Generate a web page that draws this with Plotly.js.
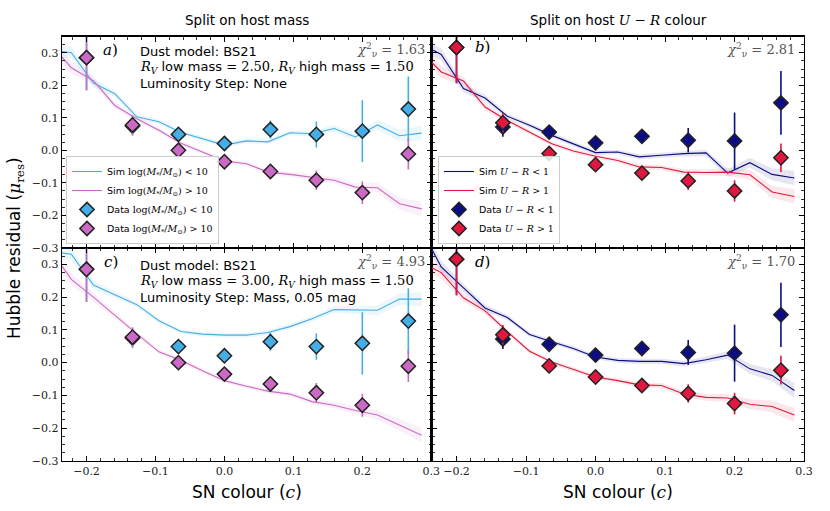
<!DOCTYPE html>
<html><head><meta charset="utf-8">
<script src="https://cdn.plot.ly/plotly-3.0.1.min.js"></script>
<style>body{margin:0;background:#fff}#chart{width:830px;height:511px}</style>
</head><body><div id="chart"></div>
<script>
// ---------- data points (binned) ----------
const dataX = [-0.2, -0.1333, -0.0667, 0.0, 0.0667, 0.1333, 0.2, 0.2667];
// split on host mass
const lowMassY   = [0.285, 0.075, 0.049, 0.021, 0.064, 0.049, 0.059, 0.127];
const lowMassErr = [0.10, 0.03, 0.015, 0.012, 0.028, 0.04, 0.095, 0.10];
const highMassY   = [0.285, 0.078, 0.000, -0.035, -0.065, -0.092, -0.130, -0.011];
const highMassErr = [0.10, 0.03, 0.012, 0.012, 0.015, 0.03, 0.035, 0.048];
// split on host U-R colour
const blueURY   = [0.316, 0.072, 0.056, 0.023, 0.043, 0.031, 0.029, 0.146];
const blueURErr = [0.11, 0.03, 0.012, 0.010, 0.012, 0.038, 0.087, 0.098];
const redURY   = [0.316, 0.085, -0.010, -0.044, -0.070, -0.094, -0.125, -0.023];
const redURErr = [0.11, 0.03, 0.012, 0.010, 0.012, 0.028, 0.033, 0.044];

// ---------- simulation curves ----------
const simX = [-0.254, -0.222, -0.19, -0.159, -0.127, -0.095, -0.063, -0.032, 0.0,
              0.032, 0.063, 0.095, 0.127, 0.159, 0.19, 0.222, 0.254, 0.286];
// panel a
const simA_low  = [0.31, 0.30, 0.207, 0.174, 0.103, 0.088, 0.055, 0.036, 0.016,
                   0.029, 0.026, 0.054, 0.051, 0.067, 0.041, 0.078, 0.045, 0.053];
const simA_high = [0.33, 0.254, 0.214, 0.138, 0.097, 0.062, 0.022, -0.005, -0.033,
                   -0.041, -0.067, -0.074, -0.082, -0.092, -0.113, -0.115, -0.164, -0.180];
// panel b
const simB_blue = [0.33, 0.295, 0.19, 0.161, 0.105, 0.077, 0.046, 0.020, -0.007,
                   -0.005, -0.020, -0.015, -0.010, -0.008, -0.070, -0.038, -0.074, -0.085];
const simB_red  = [0.31, 0.241, 0.213, 0.133, 0.092, 0.056, 0.020, -0.002, -0.018,
                   -0.031, -0.051, -0.053, -0.067, -0.068, -0.067, -0.075, -0.128, -0.142];
// panel c
const simC_low  = [0.34, 0.331, 0.237, 0.208, 0.177, 0.128, 0.095, 0.087, 0.084,
                   0.084, 0.092, 0.110, 0.134, 0.162, 0.160, 0.160, 0.194, 0.194];
const simC_high = [0.35, 0.254, 0.200, 0.144, 0.088, 0.033, 0.007, -0.025, -0.055,
                   -0.072, -0.087, -0.096, -0.119, -0.130, -0.146, -0.160, -0.190, -0.222];
// panel d
const simD_blue = [0.42, 0.292, 0.228, 0.167, 0.138, 0.086, 0.064, 0.043, 0.017,
                   0.007, 0.004, 0.004, -0.003, 0.009, 0.023, -0.019, -0.039, -0.085];
const simD_red  = [0.31, 0.275, 0.198, 0.158, 0.095, 0.035, 0.002, -0.021, -0.044,
                   -0.055, -0.068, -0.070, -0.096, -0.106, -0.108, -0.127, -0.134, -0.160];
// half-width of the shaded simulation uncertainty band
const simBand = [0.022, 0.018, 0.013, 0.010, 0.008, 0.007, 0.007, 0.007, 0.007,
                 0.007, 0.008, 0.008, 0.009, 0.010, 0.012, 0.015, 0.018, 0.022];

// ---------- styling ----------
const C_LB = '#45aee6', C_PK = '#cc69c4', C_NV = '#0c0c84', C_RD = '#e0183f';
const SERIF = 'DejaVu Serif', SANS = 'DejaVu Sans';
function rgba(hex, a){const n=parseInt(hex.slice(1),16);return `rgba(${n>>16},${(n>>8)&255},${n&255},${a})`;}

const traces = [];
function addBand(ax, ay, ys, color){
  traces.push({x: simX, y: ys.map((v,i)=>v - simBand[i]), xaxis: ax, yaxis: ay, mode:'lines',
    line:{width:0, color:color}, showlegend:false, hoverinfo:'skip'});
  traces.push({x: simX, y: ys.map((v,i)=>v + simBand[i]), xaxis: ax, yaxis: ay, mode:'lines',
    line:{width:0, color:color}, fill:'tonexty', fillcolor: rgba(color, 0.10), showlegend:false, hoverinfo:'skip'});
}
function addSim(ax, ay, ys, color, name, leg){
  traces.push({x: simX, y: ys, xaxis: ax, yaxis: ay, mode:'lines', name: name,
    line:{color: color, width: 1.1}, legend: leg || 'legend', showlegend: !!leg});
}
function addData(ax, ay, ys, errs, color, name, leg){
  traces.push({x: dataX, y: ys, xaxis: ax, yaxis: ay, mode:'markers', name: name,
    marker:{symbol:'diamond', size: 11, color: color, line:{color:'#222', width:1.5}},
    error_y:{type:'data', array: errs, visible:true, color: color, thickness:1.6, width:0},
    legend: leg || 'legend', showlegend: !!leg});
}
const M = (s)=>`<span style="font-family:${SERIF}">${s}</span>`;
const lowTxt  = 'Sim ' + M('log(<i>M</i><sub>*</sub>/<i>M</i><sub>⊙</sub>) &lt; 10');
const highTxt = 'Sim ' + M('log(<i>M</i><sub>*</sub>/<i>M</i><sub>⊙</sub>) &gt; 10');
const dLowTxt  = 'Data ' + M('log(<i>M</i><sub>*</sub>/<i>M</i><sub>⊙</sub>) &lt; 10');
const dHighTxt = 'Data ' + M('log(<i>M</i><sub>*</sub>/<i>M</i><sub>⊙</sub>) &gt; 10');
const bTxt = 'Sim ' + M('<i>U</i> − <i>R</i> &lt; 1');
const rTxt = 'Sim ' + M('<i>U</i> − <i>R</i> &gt; 1');
const dbTxt = 'Data ' + M('<i>U</i> − <i>R</i> &lt; 1');
const drTxt = 'Data ' + M('<i>U</i> − <i>R</i> &gt; 1');

// panel a
addBand('x','y', simA_low, C_LB); addBand('x','y', simA_high, C_PK);
addSim('x','y', simA_low, C_LB, lowTxt, 'legend');
addSim('x','y', simA_high, C_PK, highTxt, 'legend');
addData('x','y', lowMassY, lowMassErr, C_LB, dLowTxt, 'legend');
addData('x','y', highMassY, highMassErr, C_PK, dHighTxt, 'legend');
// panel b
addBand('x2','y2', simB_blue, C_NV); addBand('x2','y2', simB_red, C_RD);
addSim('x2','y2', simB_blue, C_NV, bTxt, 'legend2');
addSim('x2','y2', simB_red, C_RD, rTxt, 'legend2');
addData('x2','y2', blueURY, blueURErr, C_NV, dbTxt, 'legend2');
addData('x2','y2', redURY, redURErr, C_RD, drTxt, 'legend2');
// panel c
addBand('x3','y3', simC_low, C_LB); addBand('x3','y3', simC_high, C_PK);
addSim('x3','y3', simC_low, C_LB, 'low');
addSim('x3','y3', simC_high, C_PK, 'high');
addData('x3','y3', lowMassY, lowMassErr, C_LB, 'dlow');
addData('x3','y3', highMassY, highMassErr, C_PK, 'dhigh');
// panel d
addBand('x4','y4', simD_blue, C_NV); addBand('x4','y4', simD_red, C_RD);
addSim('x4','y4', simD_blue, C_NV, 'b');
addSim('x4','y4', simD_red, C_RD, 'r');
addData('x4','y4', blueURY, blueURErr, C_NV, 'db');
addData('x4','y4', redURY, redURErr, C_RD, 'dr');

// ---------- axes ----------
const W = 830, H = 511;
const XL = [61.7/W, 431.5/W], XR = [431.5/W, 804.3/W];
const YT = [1-248/H, 1-36.5/H], YB = [1-461/H, 1-248/H];
function xa(domain, anchor, labels){
  return {domain, anchor, range:[-0.236, 0.3003], tick0:0, dtick:0.1, tickformat:'.1f',
    ticks:'inside', ticklen:5, tickwidth:1, tickcolor:'#000', mirror:'allticks',
    showline:true, linecolor:'#000', linewidth:1.1, showgrid:false, zeroline:false,
    showticklabels:labels, tickfont:{family:SERIF, size:11, color:'#222'},
    minor:{tick0:0, dtick:0.02, ticks:'inside', ticklen:3, tickwidth:0.8, tickcolor:'#000', showgrid:false}};
}
function ya(domain, anchor, labels){
  return {domain, anchor, range:[-0.3003, 0.35], tick0:0, dtick:0.1, tickformat:'.1f',
    ticks:'inside', ticklen:5, tickwidth:1, tickcolor:'#000', mirror:'allticks',
    showline:true, linecolor:'#000', linewidth:1.1, showgrid:false, zeroline:false,
    showticklabels:labels, tickfont:{family:SERIF, size:11, color:'#222'},
    minor:{tick0:0, dtick:0.025, ticks:'inside', ticklen:3, tickwidth:0.8, tickcolor:'#000', showgrid:false}};
}

// ---------- annotations ----------
const ann = [];
function A(px, py, text, opts){
  ann.push(Object.assign({xref:'paper', yref:'paper', x: px/W, y: 1-py/H, text, showarrow:false,
    xanchor:'left', yanchor:'middle', font:{family:SANS, size:13, color:'#000'}}, opts||{}));
}
A(246.6, 20, 'Split on host mass', {xanchor:'center', font:{family:SANS, size:13.5, color:'#000'}});
A(618, 20, 'Split on host ' + M('<i>U</i> − <i>R</i>') + ' colour', {xanchor:'center', font:{family:SANS, size:13.5, color:'#000'}});
A(15, 248, 'Hubble residual (' + M('<i>μ</i><sub>res</sub>') + ')', {xanchor:'center', textangle:-90, font:{family:SANS, size:17, color:'#000'}});
A(246.6, 492, 'SN colour (' + M('<i>c</i>') + ')', {xanchor:'center', font:{family:SANS, size:17, color:'#000'}});
A(618, 492, 'SN colour (' + M('<i>c</i>') + ')', {xanchor:'center', font:{family:SANS, size:17, color:'#000'}});
// panel labels
const PL = {family:SERIF, size:15, color:'#000'};
A(110.5, 50, '<i>a</i>)', {xanchor:'center', font:PL});
A(482.5, 47, '<i>b</i>)', {xanchor:'center', font:PL});
A(110.5, 262, '<i>c</i>)', {xanchor:'center', font:PL});
A(482.5, 262, '<i>d</i>)', {xanchor:'center', font:PL});
// chi2
const CH = {family:SERIF, size:13, color:'#555'};
A(427, 50, '<i>χ</i><sup>2</sup><sub>ν</sub> = 1.63', {xanchor:'right', font:CH});
A(797, 50, '<i>χ</i><sup>2</sup><sub>ν</sub> = 2.81', {xanchor:'right', font:CH});
A(427, 262, '<i>χ</i><sup>2</sup><sub>ν</sub> = 4.93', {xanchor:'right', font:CH});
A(797, 262, '<i>χ</i><sup>2</sup><sub>ν</sub> = 1.70', {xanchor:'right', font:CH});
// model text
A(138, 51.5, 'Dust model: BS21');
A(138, 67.5, M('<i>R</i><sub><i>V</i></sub>') + ' low mass = ' + M('2.50') + ', ' + M('<i>R</i><sub><i>V</i></sub>') + ' high mass = ' + M('1.50'));
A(138, 83.5, 'Luminosity Step: None');
A(138, 265.5, 'Dust model: BS21');
A(138, 281.5, M('<i>R</i><sub><i>V</i></sub>') + ' low mass = ' + M('3.00') + ', ' + M('<i>R</i><sub><i>V</i></sub>') + ' high mass = ' + M('1.50'));
A(138, 297.5, 'Luminosity Step: Mass, 0.05 mag');

const legBase = {xref:'paper', yref:'paper', xanchor:'left', yanchor:'bottom', traceorder:'normal',
  bgcolor:'rgba(255,255,255,0.85)', bordercolor:'#cccccc', borderwidth:1,
  font:{family:SANS, size:9.5, color:'#000'}, itemwidth:30, tracegroupgap:0};

const layout = {
  width: W, height: H, margin:{l:0, r:0, t:0, b:0},
  paper_bgcolor:'#fff', plot_bgcolor:'#fff', showlegend:true,
  xaxis: xa(XL, 'y', false), yaxis: ya(YT, 'x', true),
  xaxis2: xa(XR, 'y2', false), yaxis2: ya(YT, 'x2', false),
  xaxis3: xa(XL, 'y3', true), yaxis3: ya(YB, 'x3', true),
  xaxis4: xa(XR, 'y4', true), yaxis4: ya(YB, 'x4', false),
  legend: Object.assign({}, legBase, {x: 66/W, y: 1-244/H}),
  legend2: Object.assign({}, legBase, {x: 438/W, y: 1-244/H}),
  annotations: ann
};
Plotly.newPlot('chart', traces, layout, {displayModeBar:false, staticPlot:true});
</script></body></html>
